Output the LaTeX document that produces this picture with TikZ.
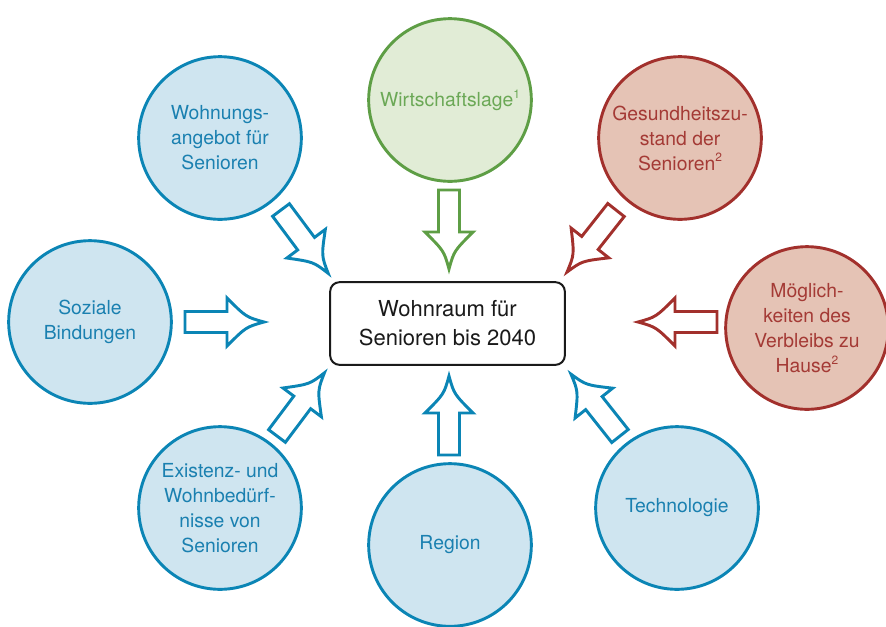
\documentclass[tikz,border=0pt]{standalone}
\usepackage{fontspec}
\setmainfont{TeX Gyre Heros}
\definecolor{bluestroke}{HTML}{0B85B5}
\definecolor{bluefill}{HTML}{CFE5F0}
\definecolor{bluetext}{HTML}{1A80B0}
\definecolor{greenstroke}{HTML}{5E9E45}
\definecolor{greenfill}{HTML}{E1ECD6}
\definecolor{greentext}{HTML}{6BA856}
\definecolor{redstroke}{HTML}{A2302C}
\definecolor{redfill}{HTML}{E5C3B5}
\definecolor{redtext}{HTML}{A43A35}
\definecolor{boxtext}{HTML}{1A1A1A}
\newcommand{\fnmark}[1]{\raisebox{0.42em}{\fontsize{9}{9}\selectfont #1}}
\tikzset{
  factor/.style={circle, minimum size=122pt, inner sep=0pt, line width=2.2pt, align=center,
    font=\fontsize{14.5}{18.75}\selectfont},
  bluec/.style={factor, draw=bluestroke, fill=bluefill, text=bluetext},
  greenc/.style={factor, draw=greenstroke, fill=greenfill, text=greentext},
  redc/.style={factor, draw=redstroke, fill=redfill, text=redtext},
  centerbox/.style={draw=boxtext, rounded corners=7pt, line width=1.5pt, fill=white,
    minimum width=176pt, minimum height=62pt, inner sep=0pt, align=center, text=boxtext,
    font=\fontsize{16.5}{21.75}\selectfont},
  barrow/.pic={\draw[pic actions, line width=2.2pt, fill=white]
    (0,-10.5) -- (42,-10.5) -- (42,-24) .. controls (61,-5) .. (79,0)
    .. controls (61,5) .. (42,24) -- (42,10.5) -- (0,10.5) -- cycle;},
  bluea/.style={draw=bluestroke},
  greena/.style={draw=greenstroke},
  reda/.style={draw=redstroke}
}
\begin{document}
\begin{tikzpicture}[x=0.75pt,y=-0.75pt]
\useasboundingbox (0,0) rectangle (886,626);
% factor circles
\node[bluec] (woh) at (220,138) {Wohnungs-\\angebot für\\Senioren};
\node[greenc] (wir) at (450,100) {Wirtschaftslage\fnmark{1}};
\node[redc] (ges) at (680,138) {Gesundheitszu-\\stand der\\Senioren\fnmark{2}};
\node[bluec] (soz) at (90,322) {Soziale\\Bindungen};
\node[redc] (moe) at (807,328) {Möglich-\\keiten des\\Verbleibs zu\\Hause\fnmark{2}};
\node[bluec] (exi) at (220,508) {Existenz- und\\Wohnbedürf-\\nisse von\\Senioren};
\node[bluec] (reg) at (450,545) {Region};
\node[bluec] (tec) at (677,508) {Technologie};
% centre
\node[centerbox] (ctr) at (447.5,323.5) {Wohnraum für\\Senioren bis 2040};
% arrow tails
\coordinate (a1) at (281,210);
\coordinate (a2) at (449,190);
\coordinate (a3) at (616,210);
\coordinate (a4) at (185,322);
\coordinate (a5) at (717,322);
\coordinate (a6) at (277,436);
\coordinate (a7) at (449,455);
\coordinate (a8) at (620,436);
\pic[bluea, rotate=-53.3] at (a1) {barrow};
\pic[greena, rotate=-90] at (a2) {barrow};
\pic[reda, rotate=-128.3] at (a3) {barrow};
\pic[bluea, rotate=0] at (a4) {barrow};
\pic[reda, rotate=180] at (a5) {barrow};
\pic[bluea, rotate=53.1] at (a6) {barrow};
\pic[bluea, rotate=90] at (a7) {barrow};
\pic[bluea, rotate=128.4] at (a8) {barrow};
\end{tikzpicture}
\end{document}
